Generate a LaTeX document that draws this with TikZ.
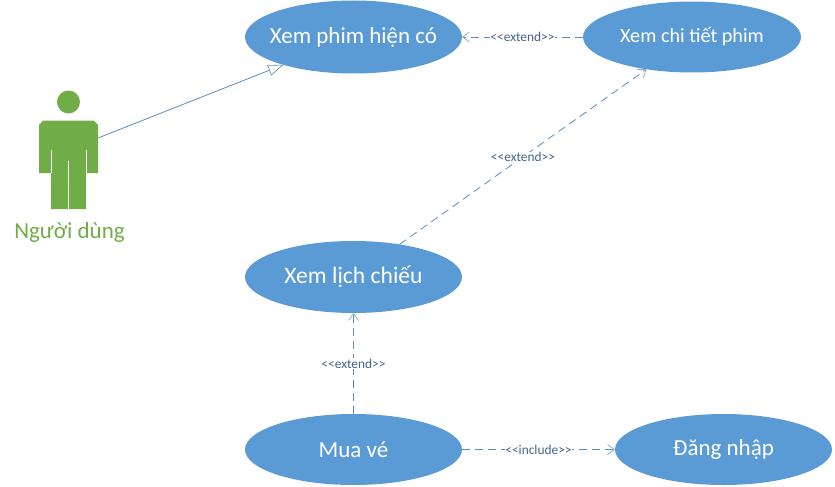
\documentclass[tikz,border=0pt]{standalone}
\usepackage{fontspec}
\setmainfont{Carlito}
\usetikzlibrary{shapes.geometric,arrows.meta}
\definecolor{ucblue}{HTML}{5B9BD5}
\definecolor{linkblue}{HTML}{5B8DB8}
\definecolor{labelblue}{HTML}{44648A}
\definecolor{actgreen}{HTML}{70AD47}
\newcommand{\uctext}[1]{\makebox[0pt]{#1}}
\tikzset{
  x=1pt,y=-1pt,
  usecase/.style={ellipse,fill=ucblue,draw=none,inner sep=0pt,outer sep=0pt,text=white,font=\fontsize{23}{27}\selectfont},
  ucsmall/.style={usecase,font=\fontsize{20.2}{24}\selectfont},
  relation/.style={draw=linkblue,line width=0.8pt,dash pattern=on 8pt off 5pt},
  openarrow/.style={-{Straight Barb[length=7pt,width=10pt,line width=0.6pt,color=linkblue!80]}},
  general/.style={draw=linkblue,line width=0.8pt,-{Triangle[open,length=15pt,width=11pt,line width=0.6pt,fill=white]}},
  stereo/.style={fill=white,inner sep=0.5pt,text=labelblue,font=\fontsize{13.4}{15}\selectfont},
}
\begin{document}
\begin{tikzpicture}
\useasboundingbox (0,0) rectangle (835,487);
% use cases
\node[usecase,minimum width=217pt,minimum height=73pt] (e1) at (353.5,37) {\uctext{Xem phim hiện có}};
\node[ucsmall,minimum width=218pt,minimum height=71pt] (e2) at (692,37) {\uctext{Xem chi tiết phim}};
\node[usecase,minimum width=217pt,minimum height=72pt,font=\fontsize{23.6}{28}\selectfont] (e3) at (353.5,277) {\uctext{Xem lịch chiếu}};
\node[usecase,minimum width=217pt,minimum height=71pt] (e4) at (353.5,449.5) {\uctext{Mua vé}};
\node[usecase,minimum width=217pt,minimum height=71pt] (e5) at (723.5,449.5) {\uctext{Đăng nhập}};
% actor
\fill[actgreen] (68.5,102) circle (11.5);
\fill[actgreen] (43,120.7) -- (94,120.7) -- (98,125) -- (98,173) -- (86,173) -- (86,209) -- (51,209) -- (51,173) -- (39,173) -- (39,125) -- cycle;
\draw[white,line width=0.7pt] (51,150) -- (51,173);
\draw[white,line width=0.7pt] (86,150) -- (86,173);
\draw[white,line width=0.7pt] (68.5,161) -- (68.5,209);
\coordinate (actor) at (98,138);
\node[text=actgreen,inner sep=0pt,font=\fontsize{23}{28}\selectfont] (actorname) at (69.5,232.5) {Người dùng};
% connectors
\draw[general] (actor) -- (e1);
\draw[relation,openarrow] (e2) -- node[stereo] (l1) {<{}<extend>{}>} (e1);
\draw[relation,openarrow] (e3) -- node[stereo] (l2) {<{}<extend>{}>} (e2);
\draw[relation,openarrow] (e4) -- node[stereo] (l3) {<{}<extend>{}>} (e3);
\draw[relation,openarrow] (e4) -- node[stereo] (l4) {<{}<include>{}>} (e5);
\end{tikzpicture}
\end{document}
